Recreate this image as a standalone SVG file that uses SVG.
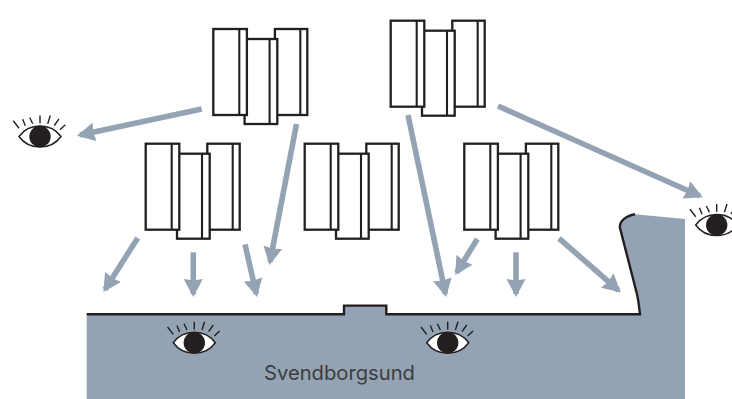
<svg xmlns="http://www.w3.org/2000/svg" width="732" height="399" viewBox="0 0 732 399">
<style>
.b{fill:#fff;stroke:#231f20;stroke-width:2.3}
.i{fill:none;stroke:#231f20;stroke-width:2.1}
.a{fill:none;stroke:#94a3b3;stroke-width:5.6;marker-end:url(#h)}
.e{fill:#fff;stroke:#231f20;stroke-width:1.5}
.l{fill:none;stroke:#231f20;stroke-width:1.4}
.p{fill:#231f20}
.w{fill:#94a3b3}
.s{fill:none;stroke:#231f20;stroke-width:2.4;stroke-linejoin:miter}
.t{font-family:Inter,"Liberation Sans",Arial,sans-serif;font-size:20.2px;fill:#3b3d40}
</style>
<defs>
<marker id="h" markerUnits="userSpaceOnUse" markerWidth="18" markerHeight="19" viewBox="0 0 18 19" refX="15" refY="9.5" orient="auto"><path d="M0 0L18 9.5L0 19L1.5 9.5Z" fill="#94a3b3"/></marker>
<g id="cluster">
<rect class="b" x="207.3" y="143.7" width="32.4" height="86"/><path class="i" d="M232.7 143.7V229.7"/>
<rect class="b" x="177" y="153.7" width="32.7" height="85"/><path class="i" d="M202 153.7V238.7"/>
<rect class="b" x="145.7" y="143.7" width="33.6" height="86"/><path class="i" d="M171.7 143.7V229.7"/>
</g>
<g id="eye">
<path class="e" d="M-21 0C-11 -14 11 -14 21 0C11 14 -11 14 -21 0Z"/>
<circle class="p" r="10.7"/>
<path class="l" d="M-26.7 -15.7L-21 -8.3M-17.3 -17.3L-14.7 -10.7M-10.3 -19L-7.3 -12.7M0 -21V-13.3M10.3 -21L7.7 -12.7M19 -17.7L14.3 -11M25.3 -11.7L20 -6.7"/>
</g>
</defs>
<g id="water">
<path class="w" d="M86.7 314.3H343V305H387V314.3H640L636.7 293L620 228C619 221 626 216 635 214.3L685 219V399H86.7Z"/>
<path class="s" d="M86.7 314.3H344V305.6H386.3V314.3H640C639 305 638 298 636.7 293L620 228C619 221 626 216 635 214.3"/>
<text class="t" x="264" y="380">Svendborgsund</text>
</g>
<g id="connectors">
<path class="a" d="M201.7 109L80 135"/>
<path class="a" d="M296.5 124L270 262"/>
<path class="a" d="M408 115L445.5 294"/>
<path class="a" d="M498 106L700 196"/>
<path class="a" d="M137.7 238L105 289.5"/>
<path class="a" d="M193.3 252.3V294"/>
<path class="a" d="M245 244.3L256.3 294"/>
<path class="a" d="M477.3 239L456.7 272.5"/>
<path class="a" d="M516 252.3V294"/>
<path class="a" d="M559 238.3L618.5 290.4"/>
</g>
<g id="building-top-left"><use href="#cluster" x="67.6" y="-114.7"/></g>
<g id="building-top-right"><use href="#cluster" x="245" y="-123"/></g>
<g id="building-mid-left"><use href="#cluster"/></g>
<g id="building-mid-centre"><use href="#cluster" x="159"/></g>
<g id="building-mid-right"><use href="#cluster" x="318.6"/></g>
<g id="eye-left"><use href="#eye" x="40" y="136.5"/></g>
<g id="eye-right"><use href="#eye" x="716.7" y="225"/></g>
<g id="eye-water-1"><use href="#eye" x="194.3" y="342.7"/></g>
<g id="eye-water-2"><use href="#eye" x="447.7" y="342.7"/></g>
</svg>
